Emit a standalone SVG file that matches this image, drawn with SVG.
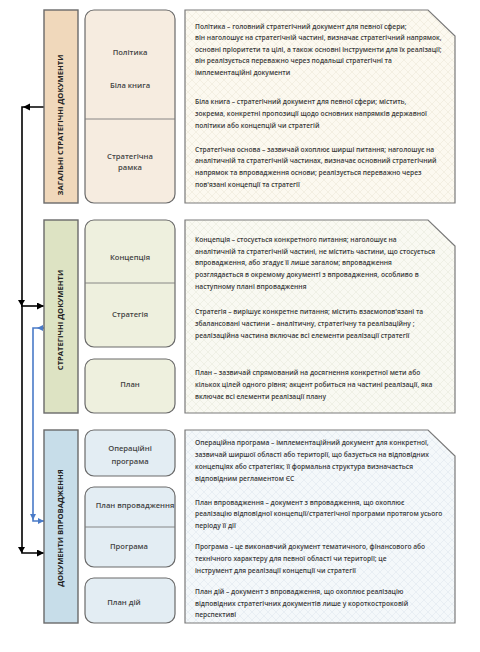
<svg xmlns="http://www.w3.org/2000/svg" width="480" height="652" viewBox="0 0 480 652">
<defs>
<pattern id="p1" width="8" height="8" patternUnits="userSpaceOnUse"><rect width="8" height="8" fill="#fcf9f0"/><path d="M0 0L8 8M8 0L0 8" stroke="#ede7d8" stroke-width="0.6"/></pattern>
<pattern id="p2" width="8" height="8" patternUnits="userSpaceOnUse"><rect width="8" height="8" fill="#f9f9f2"/><path d="M0 0L8 8M8 0L0 8" stroke="#e8e9dc" stroke-width="0.6"/></pattern>
<pattern id="p3" width="8" height="8" patternUnits="userSpaceOnUse"><rect width="8" height="8" fill="#f4f8fa"/><path d="M0 0L8 8M8 0L0 8" stroke="#dfe8ee" stroke-width="0.6"/></pattern>
<marker id="ab" markerWidth="7" markerHeight="7" refX="7" refY="3.5" orient="auto" markerUnits="userSpaceOnUse"><path d="M0 0L7 3.5L0 7Z" fill="#000"/></marker>
<marker id="au" markerWidth="6" markerHeight="6" refX="6" refY="3" orient="auto" markerUnits="userSpaceOnUse"><path d="M0 0L6 3L0 6Z" fill="#4a7bc8"/></marker>
</defs>
<style>
.bar{stroke:#6a6a6a;stroke-width:1.4}
.mid{stroke:#6a6a6a;stroke-width:1.2}
.box{stroke:#7a7a7a;stroke-width:1.2}
.div{stroke:#7a7a7a;stroke-width:0.9}
.bt{font-family:"Open Sans","Noto Sans",sans-serif;font-weight:700;font-size:7.6px;fill:#222;text-anchor:middle}
.lb{font-family:"Open Sans","Noto Sans",sans-serif;font-weight:600;font-size:7.6px;fill:#444;text-anchor:middle}
.tx{font-family:"Open Sans","Noto Sans",sans-serif;font-weight:600;font-size:6.65px;fill:#3a3a3a}
.ck{fill:none;stroke:#000;stroke-width:1.6}
.cb{fill:none;stroke:#4a7bc8;stroke-width:1.6}
</style>

<g id="connectors">
<path class="ck" d="M44 107H22V553H44" marker-end="url(#ab)"/>
<path d="M30 103.5L23 107L30 110.5Z" fill="#000"/>
<path class="ck" d="M21 306H44" marker-end="url(#ab)"/>
<path d="M18 300L25 300L21.5 306Z" fill="#000"/>
<path d="M18 547L25 547L21.5 553Z" fill="#000"/>
<path class="cb" d="M44 328H33V521H44" marker-end="url(#au)"/>
<path d="M43 325L37 328L43 331Z" fill="#4a7bc8"/>
<path d="M30 514L36 514L33 520Z" fill="#4a7bc8"/>
</g>

<g id="section1">
<rect class="bar" x="44" y="10" width="34" height="193" fill="#f0d8bb"/>
<text class="bt" transform="translate(62.5,125) rotate(-90)">ЗАГАЛЬНІ СТРАТЕГІЧНІ ДОКУМЕНТИ</text>
<rect class="mid" x="85" y="10" width="90" height="193" rx="9" fill="#f6ece0"/>
<line class="div" x1="85" y1="119" x2="175" y2="119"/>
<text class="lb" x="130" y="54.5">Політика</text>
<text class="lb" x="130" y="87.5">Біла книга</text>
<text class="lb" x="130" y="158.5">Стратегічна</text>
<text class="lb" x="130" y="169.5">рамка</text>
<path class="box" d="M185 10H428L455 36V203H185Z" fill="url(#p1)"/>
<text class="tx" x="195" y="28.5">Політика – головний стратегічний документ для певної сфери;</text>
<text class="tx" x="195" y="40">він наголошує на стратегічній частині, визначає стратегічний напрямок,</text>
<text class="tx" x="195" y="51.5">основні пріоритети та цілі, а також основні інструменти для їх реалізації;</text>
<text class="tx" x="195" y="63">він реалізується переважно через подальші стратегічні та</text>
<text class="tx" x="195" y="74.5">імплементаційні документи</text>
<text class="tx" x="195" y="103.5">Біла книга – стратегічний документ для певної сфери; містить,</text>
<text class="tx" x="195" y="115.5">зокрема, конкретні пропозиції щодо основних напрямків державної</text>
<text class="tx" x="195" y="127.5">політики або  концепцій чи стратегій</text>
<text class="tx" x="195" y="151.5">Стратегічна основа – зазвичай охоплює ширші питання; наголошує на</text>
<text class="tx" x="195" y="163">аналітичній та стратегічній частинах, визначає основний стратегічний</text>
<text class="tx" x="195" y="174.5">напрямок та впровадження основи; реалізується переважно через</text>
<text class="tx" x="195" y="186.5">пов'язані концепції та стратегії</text>
</g>

<g id="section2">
<rect class="bar" x="44" y="220" width="34" height="193" fill="#dde3c3"/>
<text class="bt" transform="translate(62.5,320) rotate(-90)">СТРАТЕГІЧНІ ДОКУМЕНТИ</text>
<rect class="mid" x="85" y="220" width="90" height="127" rx="9" fill="#eef0de"/>
<line class="div" x1="85" y1="283" x2="175" y2="283"/>
<rect class="mid" x="85" y="359" width="90" height="54" rx="9" fill="#eef0de"/>
<text class="lb" x="130" y="259.5">Концепція</text>
<text class="lb" x="130" y="316.5">Стратегія</text>
<text class="lb" x="130" y="386.5">План</text>
<path class="box" d="M185 220H428L455 246V413H185Z" fill="url(#p2)"/>
<text class="tx" x="195" y="241.5">Концепція – стосується конкретного питання; наголошує на</text>
<text class="tx" x="195" y="253.5">аналітичній та стратегічній частині, не містить частини, що стосується</text>
<text class="tx" x="195" y="264.5">впровадження, або згадує її лише загалом; впровадження</text>
<text class="tx" x="195" y="276.5">розглядається в окремому документі з впровадження, особливо в</text>
<text class="tx" x="195" y="288.5">наступному плані впровадження</text>
<text class="tx" x="195" y="313.5">Стратегія – вирішує конкретне питання; містить взаємопов'язані та</text>
<text class="tx" x="195" y="325.5">збалансовані  частини – аналітичну, стратегічну та реалізаційну ;</text>
<text class="tx" x="195" y="337.5">реалізаційна  частина включає всі елементи реалізації стратегії</text>
<text class="tx" x="195" y="374.5">План – зазвичай спрямований на досягнення конкретної мети або</text>
<text class="tx" x="195" y="386.5">кількох цілей  одного рівня; акцент робиться на частині реалізації, яка</text>
<text class="tx" x="195" y="398.5">включає всі елементи реалізації плану</text>
</g>

<g id="section3">
<rect class="bar" x="44" y="430" width="34" height="193" fill="#c7dde9"/>
<text class="bt" transform="translate(62.5,528) rotate(-90)">ДОКУМЕНТИ ВПРОВАДЖЕННЯ</text>
<rect class="mid" x="85" y="430" width="90" height="46" rx="9" fill="#e3edf3"/>
<rect class="mid" x="85" y="487" width="90" height="80" rx="9" fill="#e3edf3"/>
<line class="div" x1="85" y1="527" x2="175" y2="527"/>
<rect class="mid" x="85" y="578" width="90" height="45" rx="9" fill="#e3edf3"/>
<text class="lb" x="130" y="450.5">Операційні</text>
<text class="lb" x="130" y="463.5">програма</text>
<text class="lb" x="135" y="507.5">План впровадження</text>
<text class="lb" x="129" y="548.5">Програма</text>
<text class="lb" x="124" y="605">План дій</text>
<path class="box" d="M185 430H428L455 456V623H185Z" fill="url(#p3)"/>
<text class="tx" x="195" y="444.5">Операційна програма – імплементаційний документ для конкретної,</text>
<text class="tx" x="195" y="456.5">зазвичай ширшої області або території, що базується на відповідних</text>
<text class="tx" x="195" y="468.5">концепціях або стратегіях; її формальна структура визначається</text>
<text class="tx" x="195" y="480.5">відповідним регламентом ЄС</text>
<text class="tx" x="195" y="504.5">План впровадження – документ з впровадження, що охоплює</text>
<text class="tx" x="195" y="515.5">реалізацію відповідної концепції/стратегічної програми протягом усього</text>
<text class="tx" x="195" y="527.5">періоду її дії</text>
<text class="tx" x="195" y="548.5">Програма – це виконавчий документ тематичного, фінансового або</text>
<text class="tx" x="195" y="560.5">технічного характеру для певної області чи території; це</text>
<text class="tx" x="195" y="572.5">інструмент для реалізації концепції чи стратегії</text>
<text class="tx" x="195" y="593.5">План дій – документ з впровадження, що охоплює реалізацію</text>
<text class="tx" x="195" y="605.5">відповідних стратегічних документів лише у короткостроковій</text>
<text class="tx" x="195" y="616.5">перспективі</text>
</g>
</svg>
